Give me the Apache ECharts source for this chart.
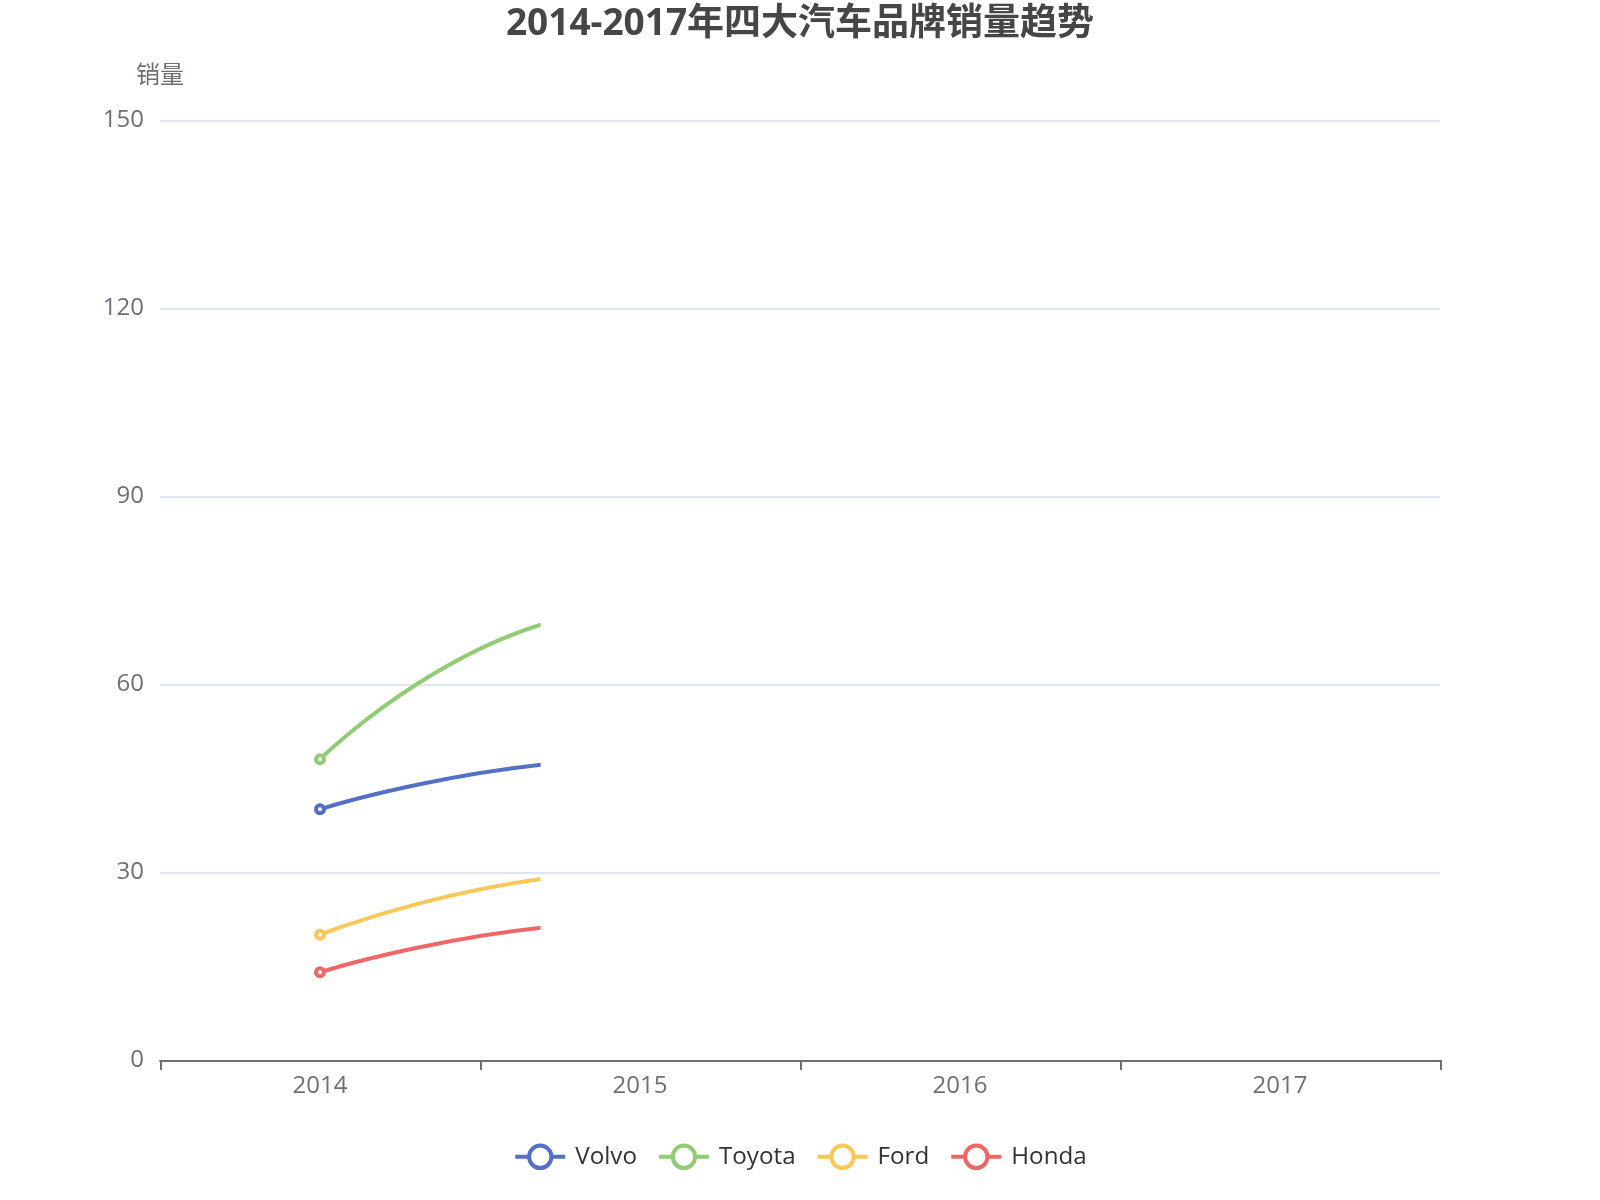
<!DOCTYPE html>
<html>
<head>
<meta charset="utf-8">
<title>2014-2017年四大汽车品牌销量趋势</title>
<script src="https://cdn.jsdelivr.net/npm/echarts@6/dist/echarts.min.js"></script>
<style>
  html, body { margin: 0; padding: 0; background: #fff; }
  #main { width: 1600px; height: 1200px; }
  /* 原图是 800x600 的图表在 2 倍像素比下的截图：画布按 800x600 布局、1600x1200 像素绘制，再按像素原样显示 */
  #main div, #main canvas { width: 1600px !important; height: 1200px !important; }
</style>
</head>
<body>
<div id="main"></div>
<script>
// 数据
var years = ['2014', '2015', '2016', '2017'];
var volvo = [40, 48, 46, 85];
var toyota = [48, 72, 70, 130];
var ford = [20, 30, 28, 52];
var honda = [14, 22, 21, 40];
var brands = ['Volvo', 'Toyota', 'Ford', 'Honda'];
var yTicks = [0, 30, 60, 90, 120, 150];

// 参考图是在入场动画进行到约 30% 时截取的，这里把折线的展开进度固定在这一帧
var FRAME = 0.298;
var font = "'Open Sans', 'Noto Sans CJK SC', sans-serif";

var myChart = echarts.init(document.getElementById('main'), null, {
  devicePixelRatio: 2, width: 800, height: 600
});

function makeSeries(name, values) {
  return {
    name: name,
    type: 'line',
    smooth: true,
    data: values,
    symbol: 'emptyCircle',
    symbolSize: 4,
    lineStyle: { width: 2 },
    animationEasing: function () { return FRAME; },
    // 只有 2014 的点已经出现
    animationDelay: function (idx) { return idx > 0 ? 1e9 : 0; }
  };
}

myChart.setOption({
  color: ['#5470c6', '#91cc75', '#fac858', '#ee6666'],
  textStyle: { fontFamily: font },
  title: {
    text: '2014-2017年四大汽车品牌销量趋势',
    left: 'center',
    top: 0,
    padding: [3, 5, 5, 5],
    textStyle: { fontSize: 18.5, fontWeight: 'bold', color: '#464646', fontFamily: font }
  },
  legend: {
    data: brands,
    bottom: 10,
    itemGap: 10,
    textStyle: { fontSize: 12.1, color: '#333', fontFamily: font }
  },
  grid: { left: 80, right: 80, top: 60, bottom: 70, containLabel: false, outerBoundsMode: 'none' },
  xAxis: {
    type: 'category',
    data: years,
    boundaryGap: true,
    axisLine: { lineStyle: { color: '#6E7079' } },
    axisTick: { show: true, lineStyle: { color: '#6E7079' } },
    axisLabel: { fontSize: 12, margin: 7, color: '#6E7079' }
  },
  yAxis: {
    type: 'value',
    name: '销量',
    nameGap: 16,
    nameTextStyle: { fontSize: 12, color: '#6E7079' },
    min: yTicks[0],
    max: yTicks[yTicks.length - 1],
    interval: yTicks[1] - yTicks[0],
    axisLabel: { fontSize: 12, color: '#6E7079' },
    splitLine: { lineStyle: { color: '#E0E6F1' } }
  },
  series: [
    makeSeries('Volvo', volvo),
    makeSeries('Toyota', toyota),
    makeSeries('Ford', ford),
    makeSeries('Honda', honda)
  ]
});
</script>
</body>
</html>
